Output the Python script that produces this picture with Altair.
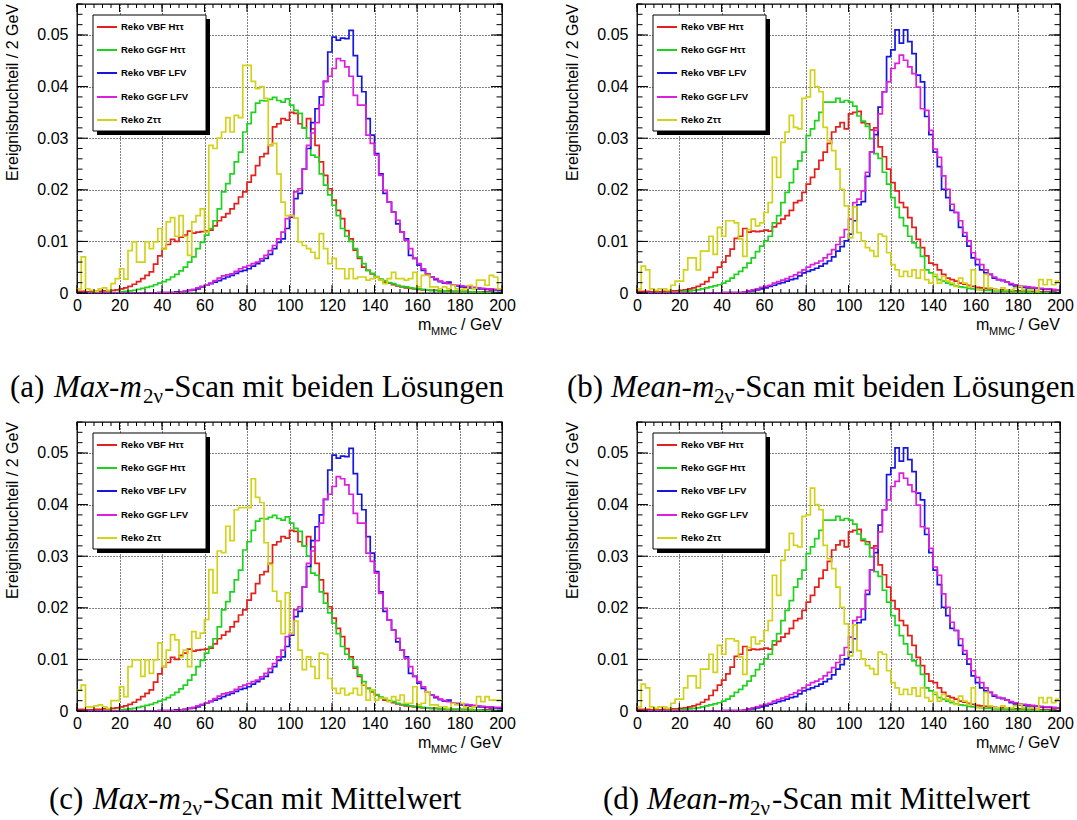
import altair as alt
import pandas as pd

# ------------------------------------------------------------------ data
BIN_LOW = list(range(0, 200, 2))          # lower edges of the 2 GeV bins
SERIES = ["Reko VBF Hττ", "Reko GGF Hττ", "Reko VBF LFV", "Reko GGF LFV", "Reko Zττ"]
COLORS = ["#e3201b", "#1fd21f", "#1616e0", "#dc1fdc", "#d2d21a"]

# Max-m2nu scan
vbf_h_max = [
    0.0003, 0.0003, 0.0002, 0.0002, 0.0003, 0.0003, 0.0004, 0.0004, 0.0005, 0.0006,
    0.0008, 0.0010, 0.0013, 0.0017, 0.0022, 0.0028, 0.0034, 0.0041, 0.0056, 0.0072,
    0.0086, 0.0094, 0.0104, 0.0100, 0.0108, 0.0112, 0.0120, 0.0116, 0.0118, 0.0119,
    0.0120, 0.0122, 0.0130, 0.0140, 0.0147, 0.0154, 0.0163, 0.0173, 0.0186, 0.0196,
    0.0215, 0.0228, 0.0247, 0.0264, 0.0270, 0.0286, 0.0322, 0.0328, 0.0338, 0.0335,
    0.0350, 0.0348, 0.0328, 0.0320, 0.0338, 0.0318, 0.0286, 0.0254, 0.0228, 0.0202,
    0.0180, 0.0160, 0.0144, 0.0121, 0.0105, 0.0083, 0.0067, 0.0050, 0.0044, 0.0037,
    0.0031, 0.0026, 0.0021, 0.0019, 0.0016, 0.0014, 0.0012, 0.0010, 0.0009, 0.0008,
    0.0007, 0.0006, 0.0006, 0.0005, 0.0005, 0.0004, 0.0004, 0.0004, 0.0003, 0.0003,
    0.0003, 0.0003, 0.0002, 0.0002, 0.0002, 0.0002, 0.0002, 0.0002, 0.0001, 0.0001,
]
ggf_h_max = [
    0.0000, 0.0000, 0.0000, 0.0000, 0.0000, 0.0000, 0.0000, 0.0001, 0.0001, 0.0001,
    0.0002, 0.0003, 0.0004, 0.0005, 0.0007, 0.0009, 0.0011, 0.0013, 0.0016, 0.0019,
    0.0022, 0.0026, 0.0031, 0.0036, 0.0043, 0.0050, 0.0060, 0.0070, 0.0086, 0.0098,
    0.0112, 0.0125, 0.0140, 0.0163, 0.0196, 0.0212, 0.0231, 0.0254, 0.0273, 0.0312,
    0.0328, 0.0350, 0.0368, 0.0373, 0.0372, 0.0375, 0.0379, 0.0373, 0.0370, 0.0376,
    0.0364, 0.0354, 0.0348, 0.0320, 0.0300, 0.0267, 0.0263, 0.0231, 0.0209, 0.0190,
    0.0170, 0.0150, 0.0125, 0.0110, 0.0100, 0.0086, 0.0070, 0.0057, 0.0044, 0.0038,
    0.0032, 0.0027, 0.0024, 0.0020, 0.0018, 0.0015, 0.0013, 0.0012, 0.0010, 0.0009,
    0.0008, 0.0007, 0.0006, 0.0005, 0.0005, 0.0004, 0.0004, 0.0003, 0.0003, 0.0003,
    0.0002, 0.0002, 0.0002, 0.0002, 0.0002, 0.0001, 0.0001, 0.0001, 0.0001, 0.0001,
]
vbf_lfv_max = [
    0.0000, 0.0000, 0.0000, 0.0000, 0.0000, 0.0000, 0.0000, 0.0000, 0.0000, 0.0000,
    0.0000, 0.0000, 0.0000, 0.0000, 0.0000, 0.0000, 0.0000, 0.0000, 0.0000, 0.0001,
    0.0001, 0.0001, 0.0001, 0.0002, 0.0002, 0.0003, 0.0005, 0.0006, 0.0008, 0.0012,
    0.0015, 0.0018, 0.0021, 0.0024, 0.0028, 0.0031, 0.0034, 0.0038, 0.0042, 0.0044,
    0.0047, 0.0052, 0.0057, 0.0062, 0.0067, 0.0075, 0.0086, 0.0098, 0.0105, 0.0125,
    0.0147, 0.0183, 0.0193, 0.0240, 0.0280, 0.0330, 0.0357, 0.0380, 0.0410, 0.0467,
    0.0496, 0.0490, 0.0494, 0.0493, 0.0509, 0.0460, 0.0420, 0.0390, 0.0338, 0.0306,
    0.0270, 0.0231, 0.0193, 0.0176, 0.0157, 0.0134, 0.0118, 0.0105, 0.0073, 0.0067,
    0.0054, 0.0044, 0.0037, 0.0031, 0.0026, 0.0022, 0.0019, 0.0021, 0.0016, 0.0014,
    0.0012, 0.0011, 0.0010, 0.0009, 0.0008, 0.0008, 0.0007, 0.0006, 0.0006, 0.0005,
]
ggf_lfv_max = [
    0.0000, 0.0000, 0.0000, 0.0000, 0.0000, 0.0000, 0.0000, 0.0000, 0.0000, 0.0000,
    0.0000, 0.0000, 0.0000, 0.0000, 0.0000, 0.0000, 0.0000, 0.0000, 0.0000, 0.0001,
    0.0001, 0.0001, 0.0001, 0.0001, 0.0002, 0.0003, 0.0005, 0.0007, 0.0010, 0.0013,
    0.0015, 0.0019, 0.0024, 0.0029, 0.0033, 0.0035, 0.0037, 0.0042, 0.0047, 0.0050,
    0.0053, 0.0057, 0.0060, 0.0066, 0.0073, 0.0082, 0.0092, 0.0105, 0.0118, 0.0144,
    0.0150, 0.0196, 0.0202, 0.0240, 0.0286, 0.0310, 0.0330, 0.0364, 0.0410, 0.0420,
    0.0435, 0.0454, 0.0450, 0.0438, 0.0420, 0.0383, 0.0364, 0.0364, 0.0306, 0.0290,
    0.0267, 0.0228, 0.0199, 0.0176, 0.0157, 0.0141, 0.0118, 0.0102, 0.0086, 0.0067,
    0.0057, 0.0047, 0.0037, 0.0031, 0.0028, 0.0023, 0.0020, 0.0018, 0.0016, 0.0015,
    0.0014, 0.0013, 0.0012, 0.0011, 0.0010, 0.0009, 0.0008, 0.0008, 0.0007, 0.0007,
]
z_max_both = [
    0.0008, 0.0070, 0.0008, 0.0005, 0.0003, 0.0008, 0.0010, 0.0005, 0.0018, 0.0028,
    0.0047, 0.0027, 0.0082, 0.0099, 0.0060, 0.0060, 0.0099, 0.0086, 0.0099, 0.0125,
    0.0085, 0.0138, 0.0146, 0.0110, 0.0150, 0.0110, 0.0073, 0.0138, 0.0150, 0.0163,
    0.0118, 0.0286, 0.0280, 0.0300, 0.0312, 0.0340, 0.0312, 0.0344, 0.0340, 0.0441,
    0.0441, 0.0410, 0.0396, 0.0400, 0.0377, 0.0286, 0.0290, 0.0231, 0.0176, 0.0150,
    0.0150, 0.0145, 0.0099, 0.0092, 0.0086, 0.0079, 0.0067, 0.0115, 0.0086, 0.0057,
    0.0067, 0.0047, 0.0047, 0.0028, 0.0047, 0.0028, 0.0031, 0.0031, 0.0025, 0.0028,
    0.0031, 0.0025, 0.0018, 0.0028, 0.0040, 0.0028, 0.0028, 0.0025, 0.0028, 0.0040,
    0.0012, 0.0034, 0.0034, 0.0012, 0.0012, 0.0008, 0.0012, 0.0008, 0.0015, 0.0008,
    0.0007, 0.0008, 0.0015, 0.0008, 0.0025, 0.0025, 0.0015, 0.0034, 0.0031, 0.0008,
]
z_max_mean = [
    0.0040, 0.0050, 0.0008, 0.0008, 0.0010, 0.0012, 0.0008, 0.0005, 0.0020, 0.0020,
    0.0047, 0.0028, 0.0086, 0.0099, 0.0099, 0.0067, 0.0099, 0.0073, 0.0099, 0.0132,
    0.0086, 0.0118, 0.0148, 0.0138, 0.0105, 0.0118, 0.0086, 0.0154, 0.0141, 0.0151,
    0.0177, 0.0274, 0.0229, 0.0310, 0.0307, 0.0358, 0.0330, 0.0390, 0.0394, 0.0394,
    0.0394, 0.0450, 0.0414, 0.0404, 0.0326, 0.0284, 0.0232, 0.0213, 0.0150, 0.0229,
    0.0150, 0.0174, 0.0118, 0.0080, 0.0105, 0.0086, 0.0063, 0.0112, 0.0110, 0.0063,
    0.0044, 0.0034, 0.0044, 0.0031, 0.0034, 0.0044, 0.0031, 0.0051, 0.0021, 0.0041,
    0.0021, 0.0025, 0.0025, 0.0018, 0.0028, 0.0021, 0.0031, 0.0015, 0.0015, 0.0047,
    0.0012, 0.0015, 0.0037, 0.0012, 0.0012, 0.0008, 0.0008, 0.0005, 0.0015, 0.0012,
    0.0015, 0.0008, 0.0005, 0.0008, 0.0028, 0.0018, 0.0028, 0.0021, 0.0021, 0.0021,
]

# Mean-m2nu scan
vbf_h_mean = [
    0.0003, 0.0003, 0.0003, 0.0002, 0.0002, 0.0002, 0.0003, 0.0003, 0.0004, 0.0004,
    0.0005, 0.0006, 0.0008, 0.0010, 0.0013, 0.0017, 0.0022, 0.0030, 0.0040, 0.0050,
    0.0060, 0.0072, 0.0085, 0.0106, 0.0110, 0.0125, 0.0118, 0.0120, 0.0119, 0.0120,
    0.0122, 0.0120, 0.0128, 0.0135, 0.0143, 0.0150, 0.0160, 0.0175, 0.0179, 0.0195,
    0.0211, 0.0224, 0.0240, 0.0257, 0.0273, 0.0290, 0.0312, 0.0322, 0.0330, 0.0318,
    0.0347, 0.0350, 0.0352, 0.0330, 0.0328, 0.0316, 0.0320, 0.0283, 0.0264, 0.0240,
    0.0214, 0.0198, 0.0175, 0.0166, 0.0146, 0.0127, 0.0104, 0.0088, 0.0072, 0.0058,
    0.0055, 0.0045, 0.0036, 0.0029, 0.0026, 0.0023, 0.0019, 0.0017, 0.0015, 0.0013,
    0.0011, 0.0010, 0.0009, 0.0008, 0.0007, 0.0006, 0.0006, 0.0005, 0.0005, 0.0004,
    0.0004, 0.0004, 0.0003, 0.0003, 0.0003, 0.0002, 0.0002, 0.0002, 0.0002, 0.0001,
]
ggf_h_mean = [
    0.0000, 0.0000, 0.0000, 0.0000, 0.0000, 0.0000, 0.0000, 0.0001, 0.0001, 0.0001,
    0.0002, 0.0003, 0.0004, 0.0005, 0.0006, 0.0008, 0.0010, 0.0012, 0.0014, 0.0016,
    0.0019, 0.0023, 0.0029, 0.0036, 0.0042, 0.0049, 0.0058, 0.0068, 0.0080, 0.0091,
    0.0101, 0.0110, 0.0136, 0.0150, 0.0175, 0.0195, 0.0214, 0.0240, 0.0256, 0.0273,
    0.0305, 0.0318, 0.0334, 0.0350, 0.0370, 0.0370, 0.0370, 0.0377, 0.0370, 0.0373,
    0.0370, 0.0362, 0.0343, 0.0333, 0.0323, 0.0299, 0.0270, 0.0261, 0.0234, 0.0211,
    0.0185, 0.0166, 0.0146, 0.0130, 0.0110, 0.0097, 0.0088, 0.0071, 0.0045, 0.0039,
    0.0032, 0.0026, 0.0023, 0.0019, 0.0016, 0.0014, 0.0012, 0.0011, 0.0009, 0.0008,
    0.0007, 0.0006, 0.0005, 0.0005, 0.0004, 0.0004, 0.0003, 0.0003, 0.0003, 0.0002,
    0.0002, 0.0002, 0.0002, 0.0001, 0.0001, 0.0001, 0.0001, 0.0001, 0.0001, 0.0001,
]
vbf_lfv_mean = [
    0.0000, 0.0000, 0.0000, 0.0000, 0.0000, 0.0000, 0.0000, 0.0000, 0.0000, 0.0000,
    0.0000, 0.0000, 0.0000, 0.0000, 0.0000, 0.0000, 0.0000, 0.0000, 0.0000, 0.0000,
    0.0001, 0.0001, 0.0001, 0.0001, 0.0001, 0.0002, 0.0003, 0.0004, 0.0006, 0.0008,
    0.0010, 0.0013, 0.0015, 0.0018, 0.0020, 0.0023, 0.0026, 0.0028, 0.0033, 0.0039,
    0.0042, 0.0045, 0.0048, 0.0052, 0.0057, 0.0062, 0.0070, 0.0081, 0.0090, 0.0101,
    0.0114, 0.0140, 0.0171, 0.0177, 0.0226, 0.0273, 0.0307, 0.0360, 0.0390, 0.0458,
    0.0471, 0.0510, 0.0484, 0.0510, 0.0487, 0.0464, 0.0422, 0.0409, 0.0342, 0.0307,
    0.0273, 0.0245, 0.0201, 0.0185, 0.0160, 0.0156, 0.0127, 0.0110, 0.0091, 0.0068,
    0.0055, 0.0045, 0.0039, 0.0036, 0.0029, 0.0026, 0.0024, 0.0021, 0.0016, 0.0014,
    0.0012, 0.0011, 0.0010, 0.0010, 0.0009, 0.0008, 0.0007, 0.0007, 0.0006, 0.0006,
]
ggf_lfv_mean = [
    0.0000, 0.0000, 0.0000, 0.0000, 0.0000, 0.0000, 0.0000, 0.0000, 0.0000, 0.0000,
    0.0000, 0.0000, 0.0000, 0.0000, 0.0000, 0.0000, 0.0000, 0.0000, 0.0000, 0.0000,
    0.0001, 0.0001, 0.0001, 0.0001, 0.0001, 0.0002, 0.0004, 0.0006, 0.0008, 0.0011,
    0.0013, 0.0015, 0.0019, 0.0022, 0.0025, 0.0028, 0.0032, 0.0035, 0.0040, 0.0045,
    0.0050, 0.0055, 0.0058, 0.0062, 0.0068, 0.0075, 0.0084, 0.0094, 0.0108, 0.0123,
    0.0143, 0.0175, 0.0182, 0.0198, 0.0234, 0.0273, 0.0315, 0.0347, 0.0390, 0.0409,
    0.0435, 0.0445, 0.0461, 0.0451, 0.0438, 0.0425, 0.0399, 0.0357, 0.0354, 0.0315,
    0.0279, 0.0263, 0.0227, 0.0201, 0.0172, 0.0156, 0.0140, 0.0117, 0.0101, 0.0078,
    0.0065, 0.0055, 0.0045, 0.0036, 0.0031, 0.0026, 0.0025, 0.0021, 0.0018, 0.0016,
    0.0014, 0.0013, 0.0012, 0.0011, 0.0010, 0.0009, 0.0008, 0.0008, 0.0007, 0.0006,
]
z_mean = [
    0.0008, 0.0052, 0.0045, 0.0008, 0.0005, 0.0008, 0.0008, 0.0005, 0.0015, 0.0023,
    0.0023, 0.0045, 0.0068, 0.0068, 0.0045, 0.0081, 0.0081, 0.0110, 0.0075, 0.0127,
    0.0110, 0.0140, 0.0140, 0.0136, 0.0105, 0.0071, 0.0123, 0.0143, 0.0130, 0.0136,
    0.0156, 0.0175, 0.0263, 0.0224, 0.0292, 0.0312, 0.0344, 0.0321, 0.0318, 0.0377,
    0.0380, 0.0432, 0.0400, 0.0390, 0.0321, 0.0295, 0.0276, 0.0240, 0.0201, 0.0169,
    0.0107, 0.0167, 0.0117, 0.0101, 0.0088, 0.0082, 0.0071, 0.0114, 0.0110, 0.0078,
    0.0055, 0.0045, 0.0032, 0.0042, 0.0032, 0.0045, 0.0029, 0.0045, 0.0026, 0.0019,
    0.0036, 0.0019, 0.0032, 0.0023, 0.0019, 0.0013, 0.0029, 0.0019, 0.0013, 0.0045,
    0.0006, 0.0006, 0.0036, 0.0010, 0.0006, 0.0006, 0.0010, 0.0006, 0.0006, 0.0010,
    0.0013, 0.0006, 0.0006, 0.0006, 0.0003, 0.0026, 0.0016, 0.0026, 0.0016, 0.0023,
]

# axis ticks
X_MAJOR = [0, 20, 40, 60, 80, 100, 120, 140, 160, 180, 200]
X_MINOR = list(range(0, 201, 4))
Y_MAJOR = [0.0, 0.01, 0.02, 0.03, 0.04, 0.05]
Y_MINOR = [round(0.002 * k, 3) for k in range(29)]
X_DOMAIN = [0, 200]
Y_DOMAIN = [0, 0.056]

PANELS = [
    dict(width=425, hists=[vbf_h_max, ggf_h_max, vbf_lfv_max, ggf_lfv_max, z_max_both],
         cap=("(a)", "Max-m", "-Scan mit beiden Lösungen"), cap_x=(-67, -23, 66, 87), cap_y=393),
    dict(width=423, hists=[vbf_h_mean, ggf_h_mean, vbf_lfv_mean, ggf_lfv_mean, z_mean],
         cap=("(b)", "Mean-m", "-Scan mit beiden Lösungen"), cap_x=(-70, -26, 77, 98), cap_y=393),
    dict(width=425, hists=[vbf_h_max, ggf_h_max, vbf_lfv_max, ggf_lfv_max, z_max_mean],
         cap=("(c)", "Max-m", "-Scan mit Mittelwert"), cap_x=(-28, 16, 105, 126), cap_y=387),
    dict(width=423, hists=[vbf_h_mean, ggf_h_mean, vbf_lfv_mean, ggf_lfv_mean, z_mean],
         cap=("(d)", "Mean-m", "-Scan mit Mittelwert"), cap_x=(-34, 10, 113, 135), cap_y=387),
]

HEIGHT = 289
SANS = "Liberation Sans"
SERIF = "Liberation Serif"
ONE = pd.DataFrame({"k": [0]})

for p in PANELS:
    for h in p["hists"]:
        assert len(h) == len(BIN_LOW), len(h)

X_AXIS = alt.Axis(values=X_MAJOR, format="d", title=None, ticks=False, domain=False,
                  grid=True, gridColor="black", gridDash=[1, 2], gridWidth=1,
                  labelFont=SANS, labelFontSize=16, labelColor="black",
                  labelPadding=4, labelFlush=False)
Y_AXIS = alt.Axis(values=Y_MAJOR, title=None, ticks=False, domain=False,
                  labelExpr="datum.value == 0 ? '0' : format(datum.value, '.2f')",
                  grid=True, gridColor="black", gridDash=[1, 2], gridWidth=1,
                  labelFont=SANS, labelFontSize=16, labelColor="black",
                  labelPadding=9, labelFlush=False)


def xs(field):
    return alt.X(field, type="quantitative", axis=X_AXIS,
                 scale=alt.Scale(domain=X_DOMAIN, nice=False, zero=False))


def ys(field):
    return alt.Y(field, type="quantitative", axis=Y_AXIS,
                 scale=alt.Scale(domain=Y_DOMAIN, nice=False, zero=False))


def text_layer(txt, x, y, size, **kw):
    return alt.Chart(ONE).mark_text(text=txt, fontSize=size, **kw).encode(
        x=alt.value(x), y=alt.value(y))


def panel(p):
    W = p["width"]
    layers = []

    # step histograms
    for name, color, vals in zip(SERIES, COLORS, p["hists"]):
        df = pd.DataFrame({"m": BIN_LOW + [200], "frac": list(vals) + [vals[-1]]})
        layers.append(
            alt.Chart(df).mark_line(interpolate="step-after", color=color,
                                    strokeWidth=1.7, clip=True).encode(
                x=xs("m"), y=ys("frac")))

    # inward ticks on all four sides
    xt_major = pd.DataFrame({"m": X_MAJOR})
    xt_minor = pd.DataFrame({"m": X_MINOR})
    yt_major = pd.DataFrame({"frac": Y_MAJOR})
    yt_minor = pd.DataFrame({"frac": Y_MINOR})
    for df, ln in ((xt_major, 8), (xt_minor, 4)):
        layers.append(alt.Chart(df).mark_rule(color="black", strokeWidth=1).encode(
            x=xs("m"), y=alt.value(HEIGHT), y2=alt.value(HEIGHT - ln)))
        layers.append(alt.Chart(df).mark_rule(color="black", strokeWidth=1).encode(
            x=xs("m"), y=alt.value(0), y2=alt.value(ln)))
    for df, ln in ((yt_major, 11), (yt_minor, 5.5)):
        layers.append(alt.Chart(df).mark_rule(color="black", strokeWidth=1).encode(
            y=ys("frac"), x=alt.value(0), x2=alt.value(ln)))
        layers.append(alt.Chart(df).mark_rule(color="black", strokeWidth=1).encode(
            y=ys("frac"), x=alt.value(W), x2=alt.value(W - ln)))

    # legend box with drop shadow
    layers.append(alt.Chart(ONE).mark_rect(color="black").encode(
        x=alt.value(20), x2=alt.value(133), y=alt.value(15), y2=alt.value(131)))
    layers.append(alt.Chart(ONE).mark_rect(fill="white", stroke="black", strokeWidth=1).encode(
        x=alt.value(16), x2=alt.value(129), y=alt.value(11), y2=alt.value(127)))
    for k, (name, color) in enumerate(zip(SERIES, COLORS)):
        ry = [23, 46, 69, 93, 116][k]
        layers.append(alt.Chart(ONE).mark_rule(color=color, strokeWidth=2).encode(
            x=alt.value(20), x2=alt.value(40), y=alt.value(ry)))
        layers.append(text_layer(name, 44, ry, 9.5, font=SANS, fontWeight="bold",
                                 align="left", baseline="middle", color="black"))

    # axis titles
    layers.append(text_layer("Ereignisbruchteil / 2 GeV", -59, 0, 16, font=SANS, angle=270,
                             align="right", baseline="alphabetic", color="black"))
    layers.append(text_layer("m", W - 84, HEIGHT + 37, 16, font=SANS, align="left",
                             baseline="alphabetic", color="black"))
    layers.append(text_layer("MMC", W - 71, HEIGHT + 42, 11, font=SANS, align="left",
                             baseline="alphabetic", color="black"))
    layers.append(text_layer("/ GeV", W - 41, HEIGHT + 37, 16, font=SANS, align="left",
                             baseline="alphabetic", color="black"))

    # caption below the panel
    lab, ital, rest = p["cap"]
    cx = p["cap_x"]
    cy = p["cap_y"]
    layers.append(text_layer(lab, cx[0], cy, 31, font=SERIF, align="left",
                             baseline="alphabetic", color="black"))
    layers.append(text_layer(ital, cx[1], cy, 31, font=SERIF, fontStyle="italic",
                             align="left", baseline="alphabetic", color="black"))
    layers.append(text_layer("2ν", cx[2], cy + 6, 21, font=SERIF, align="left",
                             baseline="alphabetic", color="black"))
    layers.append(text_layer(rest, cx[3], cy, 31, font=SERIF, align="left",
                             baseline="alphabetic", color="black"))

    return alt.layer(*layers).properties(width=W, height=HEIGHT)


chart = alt.ConcatChart(
    concat=[panel(p) for p in PANELS],
    columns=2,
    spacing=alt.RowColnumber(row=129, column=135),
    bounds="flush",
).properties(
    padding={"left": 4, "top": 2, "right": 0, "bottom": 0},
    background="white",
).configure_view(stroke="black", strokeWidth=1.3)

chart.save("out.html", embed_options={"renderer": "svg", "actions": False})
